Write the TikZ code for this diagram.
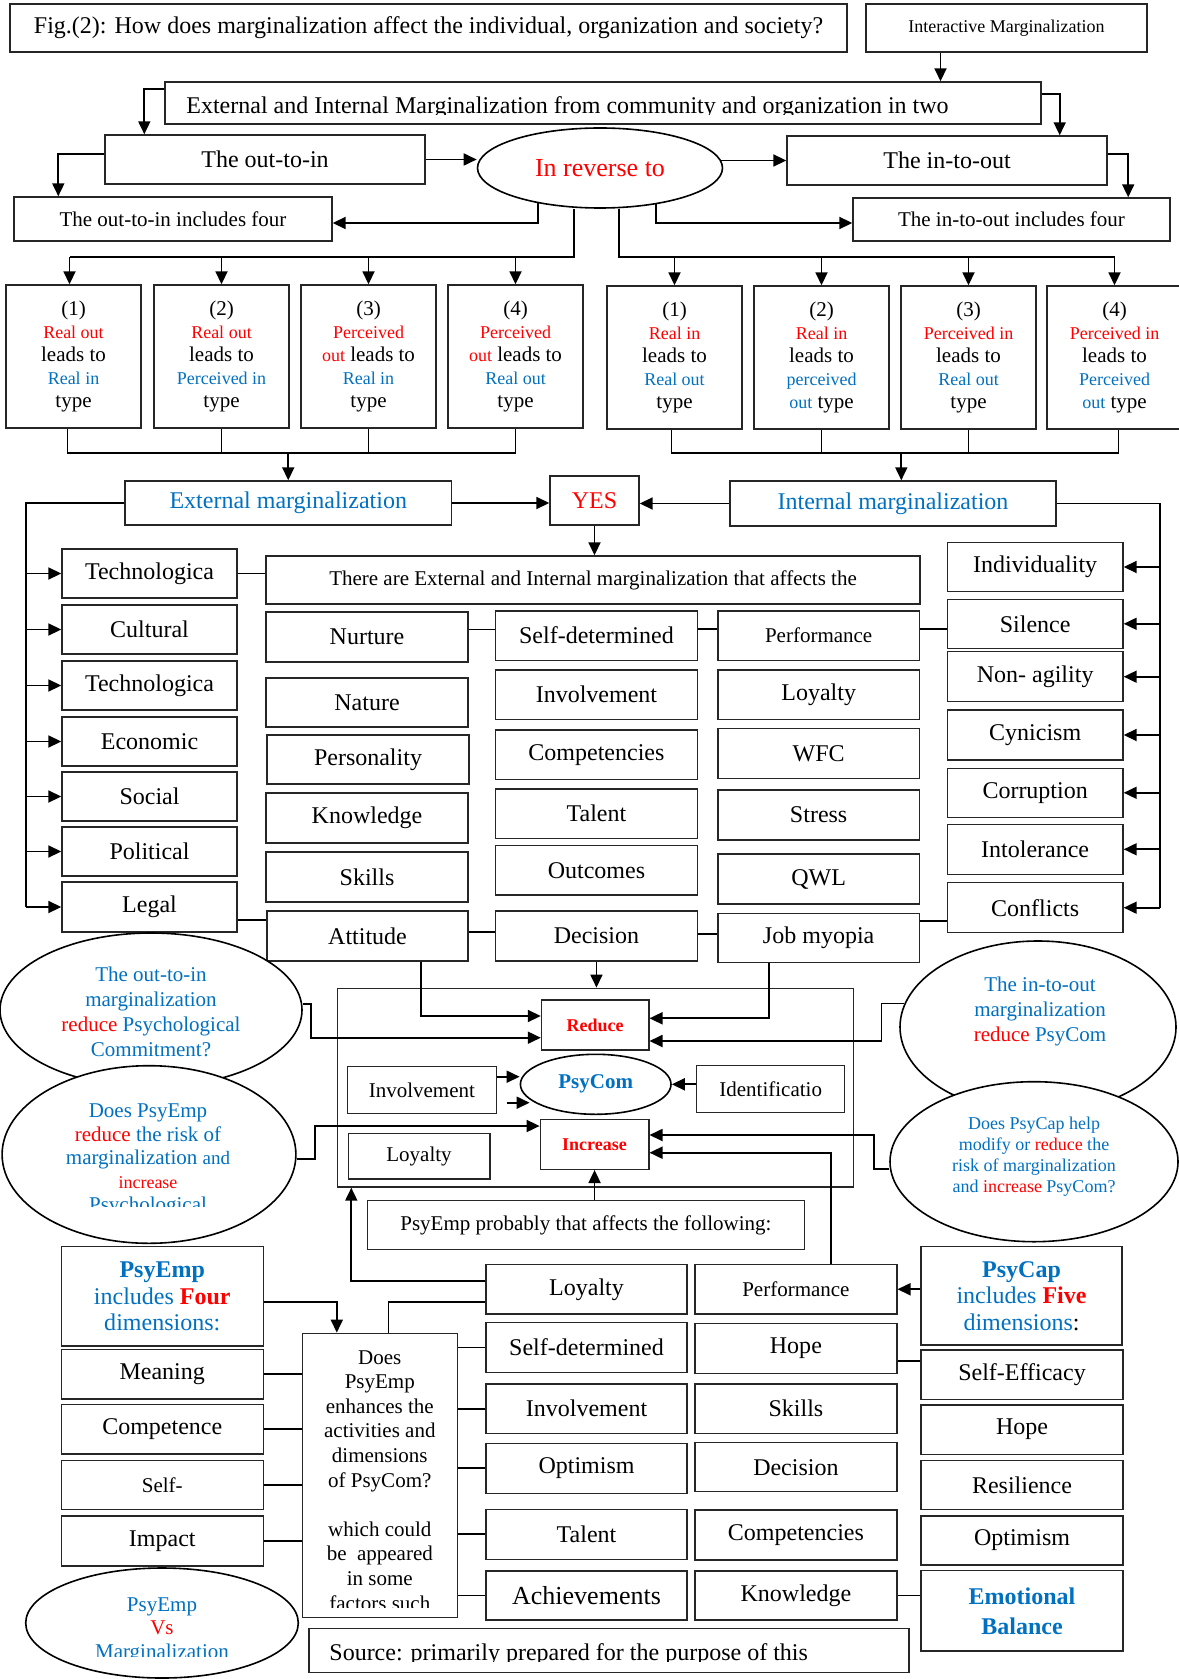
\documentclass[tikz,border=0pt]{standalone}
\usepackage{fontspec}
\setmainfont{Liberation Serif}
\usetikzlibrary{arrows.meta,shapes.geometric}

\definecolor{mred}{HTML}{FF0000}
\definecolor{mblue}{HTML}{0070C0}
\newcommand{\mkred}[1]{{\color{mred}#1}}
\newcommand{\mkblue}[1]{{\color{mblue}#1}}
\newcommand{\smred}[1]{{\color{mred}\fontsize{9}{11.5}\selectfont #1}}
\newcommand{\smblue}[1]{{\color{mblue}\fontsize{9}{11.5}\selectfont #1}}

\tikzset{
  spanbox/.style n args={4}{at={({(#1+#3)/2},{(#2+#4)/2})}, minimum width={(#3-#1)*0.5pt}, minimum height={(#4-#2)*0.5pt}},
  box/.style={draw=black!85, line width=0.7pt, inner sep=0pt, align=center, font=\fontsize{12}{14}\selectfont},
  typebox/.style={box, font=\fontsize{10.5}{11.5}\selectfont},
  smallbox/.style={box, font=\fontsize{10.5}{12.5}\selectfont},
  ebox/.style={draw=black, line width=0.8pt, ellipse, fill=white, inner sep=0pt},
  etext/.style={align=center, inner sep=0pt, text=mblue, font=\fontsize{10.5}{12.5}\selectfont},
  conn/.style={line width=0.9pt},
  arr/.style={conn, -{Triangle[length=6.5pt,width=6pt]}},
}

\begin{document}
\begin{tikzpicture}[x=0.5pt,y=-0.5pt]
    \useasboundingbox (0,0) rectangle (1178,1679);

    % Title row
    \node[box, spanbox={10}{4}{847}{52}] (title) {Fig.(2): How does marginalization affect the individual, organization and society?};
    \node[box, font=\fontsize{9}{11}\selectfont, spanbox={866}{4}{1147}{52}] (inter) {Interactive Marginalization};

    % The two ways
    \node[box, spanbox={165}{82}{1041}{124}] (extint) {};
    \begin{scope}
        \clip (165,82) rectangle (1041,114.5);
        \node[anchor=base west, inner sep=0pt, font=\fontsize{12}{14}\selectfont] (extinttext) at (186,113.3) {External and Internal Marginalization from community and organization in two};
    \end{scope}
    \node[box, spanbox={105}{135}{425}{184}] (oti) {The out-to-in};
    \node[box, spanbox={787}{136}{1107}{185}] (ito) {The in-to-out};
    \node[ebox, minimum width=122.5pt, minimum height=40pt, text=mred, font=\fontsize{13}{15}\selectfont] (rev) at (600,168) {In reverse to};
    \node[smallbox, spanbox={14}{197}{332}{241}] (otiFour) {The out-to-in includes four};
    \node[smallbox, spanbox={853}{198}{1170}{241}] (itoFour) {The in-to-out includes four};

    % Four types on each side
    \node[typebox, spanbox={6}{285}{141}{428}] (L1) {(1)\\\smred{Real out}\\leads to\\\smblue{Real in}\\type};
    \node[typebox, spanbox={154}{285}{289}{428}] (L2) {(2)\\\smred{Real out}\\leads to\\\smblue{Perceived in}\\type};
    \node[typebox, spanbox={301}{285}{436}{428}] (L3) {(3)\\\smred{Perceived}\\\smred{out} leads to\\\smblue{Real in}\\type};
    \node[typebox, spanbox={448}{285}{583}{428}] (L4) {(4)\\\smred{Perceived}\\\smred{out} leads to\\\smblue{Real out}\\type};
    \node[typebox, spanbox={607}{286}{742}{429}] (R1) {(1)\\\smred{Real in}\\leads to\\\smblue{Real out}\\type};
    \node[typebox, spanbox={754}{286}{889}{429}] (R2) {(2)\\\smred{Real in}\\leads to\\\smblue{perceived}\\\smblue{out} type};
    \node[typebox, spanbox={901}{286}{1036}{429}] (R3) {(3)\\\smred{Perceived in}\\leads to\\\smblue{Real out}\\type};
    \node[typebox, spanbox={1047}{286}{1182}{429}] (R4) {(4)\\\smred{Perceived in}\\leads to\\\smblue{Perceived}\\\smblue{out} type};

    % External / internal
    \node[box, text=mblue, spanbox={125}{481}{451.5}{525}] (extm) {External marginalization};
    \node[box, text=mblue, spanbox={730}{481}{1056}{526}] (intm) {Internal marginalization};
    \node[box, text=mred, spanbox={550}{476}{639}{525}] (yes) {YES};

    % Left column of factors
    \node[box, spanbox={62}{549}{237}{598}] (tecA) {Technologica};
    \node[box, spanbox={62}{605}{237}{654}] (cul) {Cultural};
    \node[box, spanbox={62}{661}{237}{710}] (tecB) {Technologica};
    \node[box, spanbox={62}{717}{237}{766}] (eco) {Economic};
    \node[box, spanbox={62}{772}{237}{821}] (soc) {Social};
    \node[box, spanbox={62}{827}{237}{876}] (pol) {Political};
    \node[box, spanbox={62}{882}{237}{932}] (legal) {Legal};

    % Middle grid
    \node[smallbox, spanbox={266}{556}{920}{604}] (there) {There are External and Internal marginalization that affects the};
    \node[box, spanbox={266}{612}{468}{662}] (nur) {Nurture};
    \node[box, spanbox={266}{678}{468}{727}] (nat) {Nature};
    \node[box, spanbox={267}{735}{469}{784}] (pers) {Personality};
    \node[box, spanbox={266}{793}{468}{843}] (kno) {Knowledge};
    \node[box, spanbox={266}{852}{468}{902}] (skl) {Skills};
    \node[box, spanbox={267}{911}{468}{961}] (att) {Attitude};
    \node[box, spanbox={495.5}{611}{697.4}{660.3}] (sd) {Self-determined};
    \node[box, spanbox={495.5}{670}{697.4}{719.3}] (inv) {Involvement};
    \node[box, spanbox={495.5}{730}{697.4}{779.3}] (cmp) {Competencies};
    \node[box, spanbox={495.5}{789}{697.4}{838.3}] (tal) {Talent};
    \node[box, spanbox={495.5}{845.7}{697.4}{895}] (outc) {Outcomes};
    \node[box, spanbox={495.5}{911}{697.4}{961}] (dec) {Decision};
    \node[smallbox, spanbox={718}{611}{919.3}{660.3}] (perf) {Performance};
    \node[box, spanbox={718}{670}{919.3}{719.3}] (loy) {Loyalty};
    \node[box, spanbox={718}{728.3}{919.3}{778.3}] (wfc) {WFC};
    \node[box, spanbox={718}{790}{919.3}{840}] (strs) {Stress};
    \node[box, spanbox={718}{854}{919.3}{904}] (qwl) {QWL};
    \node[box, spanbox={718}{913.3}{919.3}{962.3}] (jm) {Job myopia};

    % Right column of factors
    \node[box, spanbox={947.3}{542.3}{1123}{591.7}] (ind) {Individuality};
    \node[box, spanbox={947.3}{599.3}{1123}{648.3}] (sil) {Silence};
    \node[box, spanbox={947.3}{651.7}{1123}{701.7}] (nag) {Non- agility};
    \node[box, spanbox={947.3}{710}{1123}{760}] (cyn) {Cynicism};
    \node[box, spanbox={947.3}{768.3}{1123}{817.3}] (cor) {Corruption};
    \node[box, spanbox={947.3}{824.3}{1123}{874.3}] (itl) {Intolerance};
    \node[box, spanbox={947.3}{882.7}{1123}{932.7}] (cfl) {Conflicts};

    % PsyCom block
    \node[box, spanbox={337.5}{988.3}{853.5}{1187}] (cont) {};
    \node[box, text=mred, font=\bfseries\fontsize{9}{11}\selectfont, spanbox={541.5}{1000}{648.8}{1050}] (redu) {Reduce};
    \node[box, text=mred, font=\bfseries\fontsize{9}{11}\selectfont, spanbox={540.3}{1119.3}{648.8}{1169.3}] (incr) {Increase};
    \node[ebox, minimum width=75.3pt, minimum height=30pt, text=mblue, font=\bfseries\fontsize{10.5}{12}\selectfont] (psycom) at (595.7,1084.3) {PsyCom};
    \node[smallbox, spanbox={347.5}{1066.7}{496.3}{1113.3}] (invB) {Involvement};
    \node[smallbox, spanbox={348.2}{1133.3}{489.8}{1179}] (loyB) {Loyalty};
    \node[smallbox, spanbox={696.6}{1065.7}{844.7}{1112.3}] (idf) {Identificatio};
    \node[smallbox, spanbox={367.4}{1200.7}{804.5}{1249.3}] (ppb) {PsyEmp probably that affects the following:};

    % Question ellipses
    \node[ebox, minimum width=151pt, minimum height=77pt] (ell1) at (151,1010) {};
    \node[etext] (ell1text) at (151,1012) {The out-to-in\\marginalization\\\mkred{reduce} Psychological\\Commitment?};
    \node[ebox, minimum width=146.9pt, minimum height=88.8pt] (ell2) at (149,1154.5) {};
    \begin{scope}
        \clip (2,1066) rectangle (296,1206);
        \node[etext, font=\fontsize{10.5}{11.7}\selectfont] (ell2text) at (148,1160) {Does PsyEmp\\\mkred{reduce} the risk of\\marginalization {\fontsize{9.5}{11.7}\selectfont and}\\{\color{mred}\fontsize{9}{11.7}\selectfont increase}\\Psychological};
    \end{scope}
    \node[ebox, minimum width=138pt, minimum height=86pt] (ell3) at (1038,1027) {};
    \node[etext] (ell3text) at (1040,1011.7) {The in-to-out\\marginalization\\\mkred{reduce} PsyCom};
    \node[ebox, minimum width=144pt, minimum height=80pt] (ell4) at (1034,1161.7) {};
    \node[etext, font=\fontsize{9}{10.5}\selectfont] (ell4text) at (1034,1156.7) {Does PsyCap help\\modify or \mkred{reduce} the\\risk of marginalization\\and \mkred{increase} PsyCom?};

    % PsyEmp dimensions
    \node[box, text=mblue, font=\fontsize{12}{13.3}\selectfont, spanbox={61.2}{1246.7}{263.3}{1346}] (pse) {\textbf{PsyEmp}\\includes \textbf{\mkred{Four}}\\dimensions:};
    \node[box, spanbox={61.2}{1349.3}{263.3}{1399}] (mea) {Meaning};
    \node[box, spanbox={61.2}{1404.3}{263.3}{1454}] (cpt) {Competence};
    \node[smallbox, spanbox={61.2}{1460.7}{263.3}{1509.3}] (slf) {Self-};
    \node[box, spanbox={61.2}{1516}{263.3}{1566}] (imp) {Impact};
    \node[box, spanbox={302.3}{1333.3}{457.3}{1617.3}] (does) {};
    \begin{scope}
        \clip (302.3,1333.3) rectangle (457.3,1607.7);
        \node[anchor=north, align=center, inner sep=0pt, font=\fontsize{10.5}{12.3}\selectfont] (doestext) at (379.8,1350) {Does\\PsyEmp\\enhances the\\activities and\\dimensions\\of PsyCom?\\[12.3pt]which could\\be\ \ appeared\\in some\\factors such};
    \end{scope}

    % Affected items
    \node[box, spanbox={486}{1264.7}{687}{1314}] (loyC) {Loyalty};
    \node[box, spanbox={486}{1322.7}{687}{1372.3}] (sdC) {Self-determined};
    \node[box, spanbox={486}{1384}{687}{1433.3}] (invC) {Involvement};
    \node[box, spanbox={486}{1443.3}{687}{1493.3}] (optC) {Optimism};
    \node[box, spanbox={486}{1509.3}{687}{1559.3}] (talC) {Talent};
    \node[box, font=\fontsize{13}{15}\selectfont, spanbox={486}{1571}{687}{1620}] (achC) {Achievements};
    \node[smallbox, spanbox={695}{1264.7}{896.8}{1314}] (perfB) {Performance};
    \node[box, spanbox={695}{1323.3}{896.8}{1373.3}] (hopB) {Hope};
    \node[box, spanbox={695}{1384}{896.8}{1433.3}] (sklB) {Skills};
    \node[box, spanbox={695}{1442.7}{896.8}{1491.7}] (decB) {Decision};
    \node[box, spanbox={695}{1510}{896.8}{1560}] (cmpB) {Competencies};
    \node[box, spanbox={695}{1571}{896.8}{1620}] (knoB) {Knowledge};

    % PsyCap dimensions
    \node[box, text=mblue, font=\fontsize{12}{13.3}\selectfont, spanbox={921}{1246.7}{1122}{1345}] (psc) {\textbf{PsyCap}\\includes \textbf{\mkred{Five}}\\dimensions\textcolor{black}{:}};
    \node[box, spanbox={921}{1350}{1123}{1399.3}] (sef) {Self-Efficacy};
    \node[box, spanbox={921}{1405}{1123}{1454.3}] (hopD) {Hope};
    \node[box, spanbox={921}{1460.7}{1123}{1509.3}] (res) {Resilience};
    \node[box, spanbox={921}{1516}{1123}{1565}] (optD) {Optimism};
    \node[box, text=mblue, font=\bfseries\fontsize{12}{15}\selectfont, spanbox={921}{1570.7}{1123}{1651}] (emo) {Emotional\\Balance};

    % Footer
    \node[ebox, minimum width=136.3pt, minimum height=55pt] (ell5) at (162,1623) {};
    \begin{scope}
        \clip (26,1568) rectangle (299,1656);
        \node[etext, font=\fontsize{10.5}{11.7}\selectfont] (ell5text) at (162,1630) {PsyEmp\\\mkred{Vs}\\Marginalization};
    \end{scope}
    \node[box, spanbox={308.8}{1628.3}{909}{1672.3}] (src) {};
    \begin{scope}
        \clip (308.8,1628.3) rectangle (909,1661.5);
        \node[anchor=base west, inner sep=0pt, font=\fontsize{12}{14}\selectfont] (srctext) at (329,1660.5) {Source: primarily prepared for the purpose of this};
    \end{scope}

    % Bus and rail points
    \coordinate (topbus) at (0,257);
    \coordinate (botbus) at (0,453);
    \coordinate (lrail) at (26,0);
    \coordinate (rrail) at (1159.6,0);

    % Top connectors
    \draw[arr] ([xshift=-33pt]inter.south) -- ([xshift=-33pt]inter.south |- extint.north);
    \draw[arr] ([yshift=7pt]extint.west) -| ([xshift=20pt]oti.north west);
    \draw[arr] ([yshift=4.5pt]extint.east) -| ([xshift=-24pt]ito.north east);
    \draw[arr] ([yshift=2.75pt]oti.west) -| ([xshift=22.5pt]otiFour.north west);
    \draw[arr] ([yshift=3.25pt]ito.east) -| ([xshift=-21.25pt]itoFour.north east);
    \draw[arr] (oti.east) -- (oti.east -| rev.west);
    \draw[arr] ([xshift=-1.5pt]rev.east |- ito.west) -- (ito.west);
    \draw[arr] ([xshift=-31.2pt,yshift=2.8pt]rev.south) |- ([yshift=-2pt]otiFour.east);
    \draw[arr] ([xshift=27.85pt,yshift=2.2pt]rev.south) |- ([yshift=-1.75pt]itoFour.west);

    % Branches to the types
    \draw[conn] ([xshift=-13pt]rev.south) |- ([xshift=-2pt]L1.north |- topbus);
    \draw[arr] ([xshift=-2pt]L1.north |- topbus) -- ([xshift=-2pt]L1.north);
    \draw[arr] (L2.north |- topbus) -- (L2.north);
    \draw[arr] (L3.north |- topbus) -- (L3.north);
    \draw[arr] (L4.north |- topbus) -- (L4.north);
    \draw[conn] ([xshift=9.65pt]rev.south) |- (R4.north |- topbus);
    \draw[arr] (R1.north |- topbus) -- (R1.north);
    \draw[arr] (R2.north |- topbus) -- (R2.north);
    \draw[arr] (R3.north |- topbus) -- (R3.north);
    \draw[arr] (R4.north |- topbus) -- (R4.north);

    % Types join
    \draw[conn] ([xshift=-3pt]L1.south) |- (L4.south |- botbus) -- (L4.south);
    \draw[conn] (L2.south) -- (L2.south |- botbus);
    \draw[conn] (L3.south) -- (L3.south |- botbus);
    \draw[arr] (extm.north |- botbus) -- (extm.north);
    \draw[conn] ([xshift=-1.5pt]R1.south) |- ([xshift=2pt]R4.south |- botbus) -- ([xshift=2pt]R4.south);
    \draw[conn] (R2.south) -- (R2.south |- botbus);
    \draw[conn] (R3.south) -- (R3.south |- botbus);
    \draw[arr] ([xshift=4.15pt]intm.north |- botbus) -- ([xshift=4.15pt]intm.north);

    % YES
    \draw[arr] (extm.east) -- (extm.east -| yes.west);
    \draw[arr] (intm.west) -- (intm.west -| yes.east);
    \draw[arr] (yes.south) -- (yes.south |- there.north);

    % Left rail
    \draw[conn] (extm.west) -| (lrail |- legal.west);
    \draw[arr] (lrail |- tecA.west) -- (tecA.west);
    \draw[arr] (lrail |- cul.west) -- (cul.west);
    \draw[arr] (lrail |- tecB.west) -- (tecB.west);
    \draw[arr] (lrail |- eco.west) -- (eco.west);
    \draw[arr] (lrail |- soc.west) -- (soc.west);
    \draw[arr] (lrail |- pol.west) -- (pol.west);
    \draw[arr] (lrail |- legal.west) -- (legal.west);

    % Right rail
    \draw[conn] (intm.east) -| (rrail |- cfl.east);
    \draw[arr] (rrail |- ind.east) -- (ind.east);
    \draw[arr] (rrail |- sil.east) -- (sil.east);
    \draw[arr] (rrail |- nag.east) -- (nag.east);
    \draw[arr] (rrail |- cyn.east) -- (cyn.east);
    \draw[arr] (rrail |- cor.east) -- (cor.east);
    \draw[arr] (rrail |- itl.east) -- (itl.east);
    \draw[arr] (rrail |- cfl.east) -- (cfl.east);

    % Links in the grid
    \draw[conn] (tecA.east) -- (tecA.east -| there.west);
    \draw[conn] ([yshift=3.8pt]nur.east) -- ([yshift=3.8pt]nur.east -| sd.west);
    \draw[conn] ([yshift=3.15pt]sd.east) -- ([yshift=3.15pt]sd.east -| perf.west);
    \draw[conn] ([yshift=3.15pt]perf.east) -- ([yshift=3.15pt]perf.east -| sil.west);
    \draw[conn] ([yshift=-6.5pt]legal.east) -- ([yshift=-6.5pt]legal.east -| att.west);
    \draw[conn] ([yshift=2.15pt]att.east) -- ([yshift=2.15pt]att.east -| dec.west);
    \draw[conn] ([yshift=0.85pt]dec.east) -- ([yshift=0.85pt]dec.east -| jm.west);
    \draw[conn] ([yshift=8.4pt]jm.east) -- ([yshift=8.4pt]jm.east -| cfl.west);

    % Into the PsyCom block
    \draw[arr] (dec.south) -- (dec.south |- cont.north);
    \draw[arr] ([xshift=26.75pt]att.south) |- ([yshift=4.5pt]redu.west);
    \draw[arr] ([xshift=-24.7pt]jm.south) |- ([yshift=3.35pt]redu.east);
    \draw[arr] ([yshift=3pt]ell1.east) -- ++(4pt,0) |- ([yshift=-6.35pt]redu.west);
    \draw[arr] (ell3.170) -- ++(-11.5pt,0) |- ([yshift=-8pt]redu.east);
    \draw[arr] ([yshift=6.65pt]invB.east) -- ([yshift=6.65pt]invB.east -| psycom.west);
    \draw[arr] ([xshift=5pt,yshift=-6.35pt]invB.east) -- ([xshift=5pt,yshift=-6.35pt]invB.east -| psycom.west);
    \draw[arr] ([yshift=2.35pt]idf.west) -- (psycom.east);
    \draw[arr] ([yshift=-2.4pt]ell2.east) -- ++(9pt,0) |- ([yshift=9.15pt]incr.west);
    \draw[arr] ([yshift=-3.8pt]ell4.west) -- ++(-7.7pt,0) |- ([yshift=4.65pt]incr.east);
    \draw[arr] ([xshift=17.7pt]perfB.north) |- ([yshift=-4.2pt]incr.east);
    \draw[arr] (incr.south |- ppb.north) -- (incr.south);

    % Bottom links
    \draw[arr] ([yshift=-2.7pt]pse.east) -| ([xshift=17.6pt]does.north west);
    \draw[conn] (mea.east) -- (mea.east -| does.west);
    \draw[conn] (cpt.east) -- (cpt.east -| does.west);
    \draw[conn] (slf.east) -- (slf.east -| does.west);
    \draw[conn] (imp.east) -- (imp.east -| does.west);
    \draw[conn] (sdC.west) -- (sdC.west -| does.east);
    \draw[conn] (invC.west) -- (invC.west -| does.east);
    \draw[conn] (optC.west) -- (optC.west -| does.east);
    \draw[conn] (talC.west) -- (talC.west -| does.east);
    \draw[conn] (achC.west) -- (achC.west -| does.east);
    \draw[conn] ([xshift=4.3pt]does.north) |- ([yshift=-6.2pt]loyC.west);
    \draw[arr] ([yshift=4.3pt]loyC.west) -| ([xshift=7.25pt]cont.south west);
    \draw[arr] ([yshift=3.3pt]psc.west) -- ([yshift=3.3pt]psc.west -| perfB.east);
    \draw[conn] ([yshift=-6.2pt]hopB.east) -- ([yshift=-6.2pt]hopB.east -| sef.west);
    \draw[conn] (knoB.east) -- (knoB.east -| emo.west);

\end{tikzpicture}
\end{document}
